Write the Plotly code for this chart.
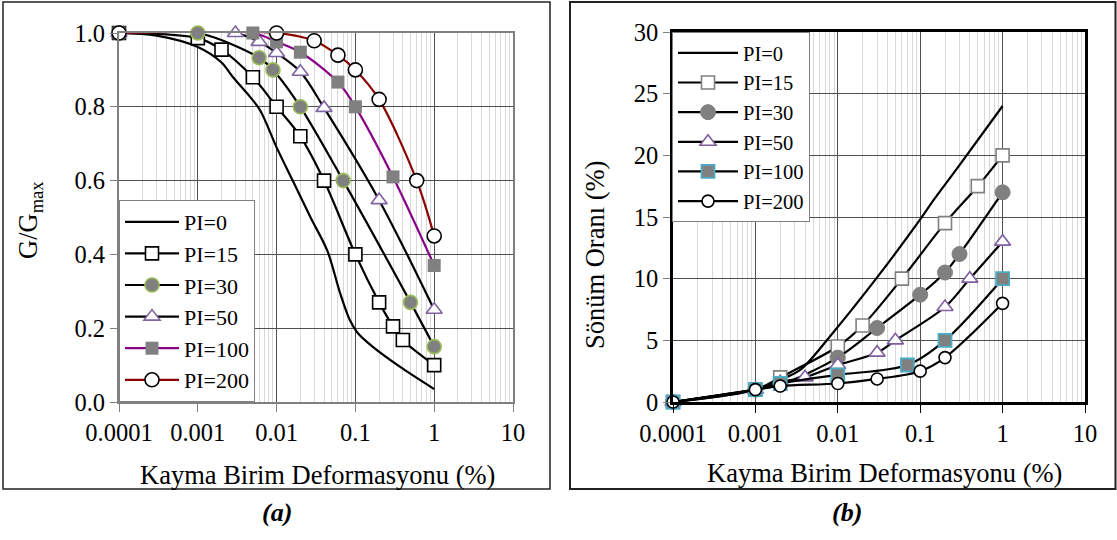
import plotly.graph_objects as go

W, H = 1117, 540
FONT = "'Liberation Serif', 'Times New Roman', Times, serif"

# ---------------- data: (a) G/Gmax ----------------
a_pi0_x = [0.0001, 0.0003, 0.001, 0.002, 0.0028, 0.0046, 0.0062, 0.01, 0.016, 0.027, 0.044, 0.064, 0.085, 0.107, 0.165, 0.37, 1.0]
a_pi0_y = [1.0, 0.993, 0.962, 0.92, 0.88, 0.827, 0.79, 0.69, 0.60, 0.50, 0.41, 0.295, 0.222, 0.187, 0.15, 0.095, 0.035]
a_pi15_x = [0.0001, 0.001, 0.002, 0.005, 0.01, 0.02, 0.04, 0.1, 0.2, 0.3, 0.4, 1.0]
a_pi15_y = [1.0, 0.986, 0.955, 0.88, 0.80, 0.72, 0.60, 0.40, 0.27, 0.205, 0.168, 0.10]
a_pi30_x = [0.0001, 0.001, 0.006, 0.009, 0.02, 0.07, 0.5, 1.0]
a_pi30_y = [1.0, 1.0, 0.933, 0.90, 0.80, 0.60, 0.27, 0.15]
a_pi50_x = [0.0001, 0.003, 0.006, 0.01, 0.02, 0.04, 0.2, 1.0]
a_pi50_y = [1.0, 1.0, 0.976, 0.946, 0.895, 0.797, 0.547, 0.25]
a_pi100_x = [0.0001, 0.005, 0.01, 0.02, 0.06, 0.1, 0.3, 1.0]
a_pi100_y = [1.0, 1.0, 0.976, 0.948, 0.867, 0.80, 0.61, 0.37]
a_pi200_x = [0.0001, 0.01, 0.03, 0.06, 0.1, 0.2, 0.6, 1.0]
a_pi200_y = [1.0, 1.0, 0.979, 0.94, 0.90, 0.82, 0.60, 0.45]

# ---------------- data: (b) damping ----------------
b_pi0_x = [0.0001, 0.001, 0.002, 0.0035, 0.0087, 0.03, 0.1, 0.143, 0.3, 1.0]
b_pi0_y = [0, 1.0, 1.8, 2.6, 5.6, 10.1, 14.8, 16.3, 19.2, 24.0]
b_pi15_x = [0.0001, 0.001, 0.002, 0.01, 0.02, 0.06, 0.2, 0.5, 1.0]
b_pi15_y = [0, 1.0, 2.0, 4.5, 6.2, 10.0, 14.5, 17.5, 20.0]
b_pi30_x = [0.0001, 0.001, 0.002, 0.01, 0.03, 0.1, 0.2, 0.3, 1.0]
b_pi30_y = [0, 1.0, 1.4, 3.6, 6.0, 8.7, 10.5, 12.0, 17.0]
b_pi50_x = [0.0001, 0.001, 0.002, 0.004, 0.01, 0.03, 0.05, 0.2, 0.4, 1.0]
b_pi50_y = [0, 1.0, 1.6, 2.0, 3.0, 4.0, 5.0, 7.7, 10.0, 13.0]
b_pi100_x = [0.0001, 0.001, 0.002, 0.01, 0.07, 0.2, 1.0]
b_pi100_y = [0, 1.0, 1.5, 2.2, 3.0, 5.0, 10.0]
b_pi200_x = [0.0001, 0.001, 0.002, 0.01, 0.03, 0.1, 0.2, 1.0]
b_pi200_y = [0, 1.0, 1.3, 1.5, 1.87, 2.5, 3.6, 8.0]

names = ["PI=0", "PI=15", "PI=30", "PI=50", "PI=100", "PI=200"]
x_tickvals = [0.0001, 0.001, 0.01, 0.1, 1, 10]
x_ticktext = ["0.0001", "0.001", "0.01", "0.1", "1", "10"]
minor_vals = [m * 10.0 ** e for e in range(-4, 1) for m in range(2, 10)]

GRAY = "#808080"
fig = go.Figure()

def px_x(p):
    return p / W

def px_y(p):
    return 1 - p / H

# ---- (a) traces ----
a_specs = [
    (a_pi0_x, a_pi0_y, "black", None),
    (a_pi15_x, a_pi15_y, "black", dict(symbol="square", size=13, color="white", line=dict(color="black", width=1.6))),
    (a_pi30_x, a_pi30_y, "black", dict(symbol="circle", size=14, color=GRAY, line=dict(color="#9BBB59", width=1.6))),
    (a_pi50_x, a_pi50_y, "black", dict(symbol="triangle-up", size=14, color="white", line=dict(color="#8064A2", width=1.6))),
    (a_pi100_x, a_pi100_y, "#880088", dict(symbol="square", size=13, color=GRAY, line=dict(width=0))),
    (a_pi200_x, a_pi200_y, "#8B0000", dict(symbol="circle", size=14, color="white", line=dict(color="black", width=1.6))),
]
for (xs, ys, lc, mk), nm in zip(a_specs, names):
    fig.add_trace(go.Scatter(
        x=xs, y=ys, name=nm, xaxis="x", yaxis="y", legend="legend",
        mode="lines" if mk is None else "lines+markers",
        line=dict(color=lc, width=2.2, shape="spline", smoothing=0.9),
        marker=mk, cliponaxis=False,
    ))

# ---- (b) traces ----
b_specs = [
    (b_pi0_x, b_pi0_y, None),
    (b_pi15_x, b_pi15_y, dict(symbol="square", size=13, color="white", line=dict(color=GRAY, width=1.6))),
    (b_pi30_x, b_pi30_y, dict(symbol="circle", size=15, color=GRAY, line=dict(color=GRAY, width=1))),
    (b_pi50_x, b_pi50_y, dict(symbol="triangle-up", size=14, color="white", line=dict(color="#7F5FA0", width=1.6))),
    (b_pi100_x, b_pi100_y, dict(symbol="square", size=13, color=GRAY, line=dict(color="#4BACC6", width=1.8))),
    (b_pi200_x, b_pi200_y, dict(symbol="circle", size=12, color="white", line=dict(color="black", width=1.6))),
]
for (xs, ys, mk), nm in zip(b_specs, names):
    fig.add_trace(go.Scatter(
        x=xs, y=ys, name=nm, xaxis="x2", yaxis="y2", legend="legend2",
        mode="lines" if mk is None else "lines+markers",
        line=dict(color="black", width=2.2, shape="spline", smoothing=0.9),
        marker=mk, cliponaxis=False,
    ))

tickfont = dict(family=FONT, size=24.5, color="black")
common_x = dict(
    type="log", range=[-4, 1], tickmode="array", tickvals=x_tickvals, ticktext=x_ticktext,
    showgrid=True, gridcolor="#505050", gridwidth=1, zeroline=False, automargin=False,
    minor=dict(tickmode="array", tickvals=minor_vals, showgrid=True, gridcolor="#d9d9d9", gridwidth=1, ticks=""),
    ticks="outside", ticklen=8, tickfont=tickfont, mirror=True, showline=True,
)

fig.update_layout(
    template="none",
    width=W, height=H, margin=dict(l=0, r=0, t=0, b=0, autoexpand=False),
    paper_bgcolor="white", plot_bgcolor="white",
    font=dict(family=FONT, color="black"),
    xaxis=dict(domain=[px_x(119), px_x(513)], anchor="y", linecolor=GRAY, linewidth=2,
               tickcolor=GRAY, **common_x),
    yaxis=dict(domain=[px_y(402), px_y(33)], anchor="x", range=[0, 1], tickmode="array",
               tickvals=[0, 0.2, 0.4, 0.6, 0.8, 1.0], tickformat=".1f", automargin=False,
               showgrid=True, gridcolor="#505050", gridwidth=1, zeroline=False,
               showline=True, linecolor=GRAY, linewidth=2, mirror=True,
               ticks="outside", ticklen=7, tickcolor=GRAY, tickfont=tickfont),
    xaxis2=dict(domain=[px_x(673), px_x(1085)], anchor="y2", linecolor="black", linewidth=2.5,
                tickcolor="black", **common_x),
    yaxis2=dict(domain=[px_y(402), px_y(32)], anchor="x2", range=[0, 30], dtick=5, automargin=False,
                showgrid=True, gridcolor="#505050", gridwidth=1, zeroline=False,
                showline=True, linecolor="black", linewidth=2.5, mirror=True,
                ticks="outside", ticklen=7, tickcolor=GRAY, tickfont=tickfont),
    legend=dict(x=px_x(119), y=px_y(402), xanchor="left", yanchor="bottom",
                bgcolor="white", bordercolor=GRAY, borderwidth=1,
                font=dict(family=FONT, size=22, color="black"), itemwidth=54,
                tracegroupgap=0),
    legend2=dict(x=px_x(672), y=px_y(32), xanchor="left", yanchor="top",
                 bgcolor="white", bordercolor=GRAY, borderwidth=1,
                 font=dict(family=FONT, size=20.5, color="black"), itemwidth=60,
                 tracegroupgap=0),
    showlegend=True,
)

# outer frames
fig.add_shape(type="rect", xref="paper", yref="paper", x0=px_x(3), x1=px_x(550), y0=px_y(489), y1=px_y(2),
              line=dict(color="#222222", width=1.5), layer="below")
fig.add_shape(type="rect", xref="paper", yref="paper", x0=px_x(570), x1=px_x(1115.5), y0=px_y(489), y1=px_y(2),
              line=dict(color="#222222", width=2), layer="below")

ann_font = dict(family=FONT, size=26.5, color="black")
annots = [
    dict(x=px_x(317), y=px_y(475), text="Kayma Birim Deformasyonu (%)", textangle=0),
    dict(x=px_x(884), y=px_y(473), text="Kayma Birim Deformasyonu (%)", textangle=0),
    dict(x=px_x(30), y=px_y(220), text="G/G<sub>max</sub>", textangle=-90),
    dict(x=px_x(595), y=px_y(255), text="Sönüm Oranı (%)", textangle=-90),
]
for a in annots:
    fig.add_annotation(xref="paper", yref="paper", xanchor="center", yanchor="middle",
                       showarrow=False, font=ann_font, **a)
for txt, xc in [("<b><i>(a)</i></b>", 277), ("<b><i>(b)</i></b>", 847)]:
    fig.add_annotation(xref="paper", yref="paper", x=px_x(xc), y=px_y(512), text=txt,
                       xanchor="center", yanchor="middle", showarrow=False,
                       font=dict(family=FONT, size=26, color="black"))

fig.write_html("out.html", config={"displayModeBar": False},
               post_script="document.body.style.margin='0';document.body.style.padding='0';")
